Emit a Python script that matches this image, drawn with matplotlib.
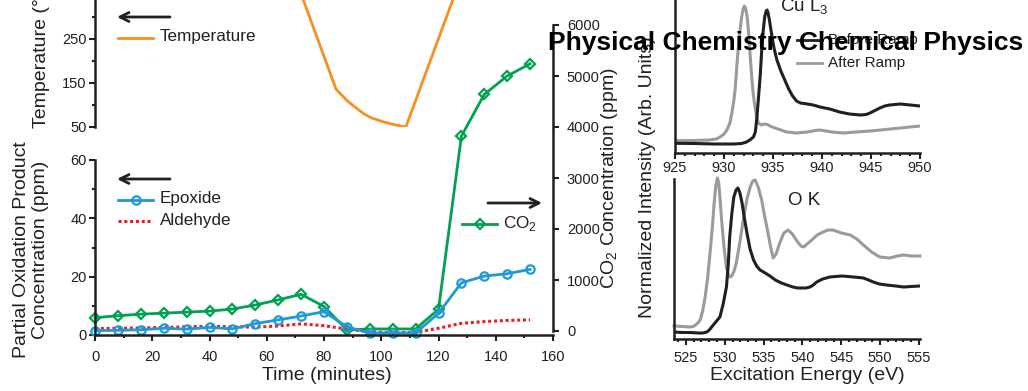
import matplotlib
matplotlib.use("Agg")
import matplotlib.pyplot as plt
from matplotlib.lines import Line2D
from matplotlib.patches import FancyArrowPatch
from matplotlib.ticker import MultipleLocator

plt.rcParams["font.family"] = ["Liberation Sans", "DejaVu Sans"]
plt.rcParams["mathtext.fontset"] = "custom"
plt.rcParams["mathtext.rm"] = "Liberation Sans"

# --- reactor run: sampled every 8 minutes ---
time_min = [0, 8, 16, 24, 32, 40, 48, 56, 64, 72, 80, 88, 96, 104, 112, 120, 128, 136, 144, 152]
epoxide_ppm = [1.5, 1.6, 1.8, 2.3, 2.0, 2.6, 2.1, 3.9, 5.2, 6.5, 8.0, 2.8, 0.7, 0.7, 0.7, 7.4, 17.9, 20.2, 21.0, 22.5]
aldehyde_ppm = [2.2, 2.3, 2.4, 2.6, 2.8, 3.0, 2.8, 2.7, 3.1, 3.8, 3.2, 2.0, 1.1, 0.8, 0.9, 2.3, 4.0, 4.6, 5.0, 5.2]
co2_ppm = [260, 300, 330, 350, 370, 390, 430, 510, 610, 720, 480, 20, 40, 40, 40, 425, 3820, 4640, 5000, 5240]

# temperature programme
temp_time = [70, 84.2, 87.9, 90.5, 93.7, 96.5, 99.6, 104, 108.6, 125, 130]
temp_c = [388, 136, 111, 97, 81, 71, 64, 56, 50, 339, 427]

# --- NEXAFS, Cu L3 edge ---
cu_e_before = [925, 927, 929, 930, 931, 931.8, 932.3, 932.7, 933.0, 933.2, 933.35, 933.5, 933.7, 933.85,
               934.0, 934.15, 934.3, 934.4, 934.5, 934.65, 934.87, 935.1, 935.4, 935.8, 936.2, 936.6,
               937.0, 937.4, 937.8, 938.5, 939.1, 939.8, 940.8, 941.8, 942.8, 943.9, 944.5, 944.9,
               945.4, 945.9, 946.4, 946.9, 948, 949, 950]
cu_before = [9.7, 9.5, 9, 9, 9, 9.5, 11, 13.5, 16, 21, 35, 53, 78, 103,
             122, 136, 142, 143, 140, 132, 118, 105, 93, 82, 73, 64,
             57, 52, 50, 49, 48, 46, 44, 41, 39, 38, 38.5, 40,
             42.5, 45, 47, 48, 49, 48, 47]
cu_e_after = [925, 927, 928.5, 929.2, 929.6, 930.0, 930.3, 930.6, 930.8, 931.0, 931.15, 931.3, 931.45,
              931.6, 931.8, 931.95, 932.07, 932.2, 932.35, 932.5, 932.65, 932.8, 932.95, 933.1, 933.3,
              933.5, 933.8, 934.1, 934.4, 934.8, 935.2, 935.8, 936.4, 937.4, 938.5, 939.3, 939.8,
              940.4, 941, 942.2, 943.5, 944.9, 946, 947, 948.5, 950]
cu_after = [12.3, 12.5, 13, 14, 16, 19, 23, 30, 40, 52, 65, 86, 104,
            120, 136, 144, 147, 145, 137, 122, 100, 80, 62, 50, 38,
            30, 28, 29, 28.5, 26.5, 25, 23, 21, 20, 21, 22.5, 23,
            22, 21, 20, 21, 22, 23, 24, 25.5, 27]

# --- NEXAFS, O K edge ---
o_e_before = [523.46, 524.5, 525.57, 526.6, 527.2, 527.68, 528.0, 528.31, 528.94, 529.37, 529.79, 530.21,
              530.45, 530.63, 530.9, 531.16, 531.45, 531.69, 531.95, 532.22, 532.5, 532.85, 533.25,
              533.7, 534.1, 534.54, 535.2, 535.81, 536.5, 537.29, 538.0, 538.76, 539.4, 539.92, 540.45,
              540.98, 541.4, 541.83, 542.6, 543.51, 545.1, 546.58, 547.84, 548.5, 549.11, 549.9, 550.8,
              552, 553.02, 554, 555.1]
o_before = [7, 6.5, 6.5, 6, 6, 7, 9, 12, 18, 22, 35, 52,
            75, 102, 125, 142, 149, 151, 146, 136, 122, 106, 90,
            79, 73, 69, 66, 63, 59, 56, 54, 52, 51, 51, 51,
            52, 54, 57, 60, 62, 63, 62, 61, 59, 57, 55, 54,
            53, 52, 52.5, 53]
o_e_after = [523.46, 524.5, 525.5, 525.94, 526.4, 526.83, 527.15, 527.47, 527.8, 528.1, 528.4, 528.63,
             528.85, 529.05, 529.22, 529.37, 529.6, 529.9, 530.2, 530.53, 530.9, 531.2, 531.48, 531.9,
             532.38, 532.85, 533.27, 533.6, 533.91, 534.3, 534.75, 535.1, 535.49, 535.9, 536.23, 536.6,
             537.07, 537.6, 538.13, 538.7, 539.29, 539.8, 540.14, 540.6, 541.19, 541.9, 542.67, 543.3,
             543.94, 545.0, 546.15, 547.0, 547.84, 548.9, 549.95, 551.22, 552.2, 553.02, 554, 555.1]
o_after = [13, 12.5, 12, 12.5, 15, 19, 28, 42, 62, 86, 112, 136,
           154, 161, 156, 142, 118, 92, 72, 62, 63, 68, 76, 95,
           119, 140, 152, 158, 159, 152, 139, 124, 109, 92, 81, 85,
           96, 106, 109, 105, 98, 93, 92, 95, 99, 104, 107, 109,
           109, 106, 104, 100, 94, 87, 82, 81, 83, 84, 83, 83]

W, H = 1028, 391
INK = "#231F20"
ORANGE = "#F7901E"
BLUE = "#1E9AD7"
GREEN = "#00A24F"
RED = "#EE1C25"
GRAY = "#9B9B9B"


def fx(x):
    return x / W


def fy(y):
    return 1 - y / H


def axes_px(fig, left, top, right, bottom):
    return fig.add_axes([fx(left), fy(bottom), (right - left) / W, (bottom - top) / H])


def style(ax, sides):
    for side, sp in ax.spines.items():
        sp.set_visible(side in sides)
        sp.set_linewidth(1.8)
        sp.set_color(INK)
    ax.patch.set_visible(False)
    ax.tick_params(which="both", direction="out", width=1.5, colors=INK, labelsize=10.5, pad=2)
    ax.tick_params(which="major", length=4)
    ax.tick_params(which="minor", length=2.5)


def legend_line(fig, x0, x1, y, **kw):
    xm = (x0 + x1) / 2
    fig.add_artist(Line2D([fx(x0), fx(xm), fx(x1)], [fy(y)] * 3,
                          transform=fig.transFigure, markevery=[1], **kw))


def arrow(fig, x_tail, x_head, y):
    fig.add_artist(FancyArrowPatch((fx(x_tail), fy(y)), (fx(x_head), fy(y)),
                                   transform=fig.transFigure, arrowstyle="->",
                                   mutation_scale=16, lw=2, color=INK,
                                   shrinkA=0, shrinkB=0))


fig = plt.figure(figsize=(W / 100, H / 100), dpi=100)

ax_temp = axes_px(fig, 95, -5, 553, 127)
ax_co2 = axes_px(fig, 95, 25, 553, 331)
ax_prod = axes_px(fig, 95, 160, 553, 335)
ax_cu = axes_px(fig, 675, -5, 920, 153)
ax_ok = axes_px(fig, 674, 179, 920, 339)

# temperature panel
style(ax_temp, ["left"])
ax_temp.plot(temp_time, temp_c, color=ORANGE, lw=2)
ax_temp.set_xlim(0, 160)
ax_temp.set_ylim(50, 350)
ax_temp.set_xticks([])
ax_temp.set_yticks([50, 150, 250, 350])
ax_temp.yaxis.set_minor_locator(MultipleLocator(50))

# CO2 on its own right-hand scale
style(ax_co2, ["right"])
ax_co2.plot(time_min, co2_ppm, color=GREEN, lw=2, marker="D", ms=5.5, mfc="none", mew=1.6, clip_on=False)
ax_co2.set_xlim(0, 160)
ax_co2.set_ylim(0, 6000)
ax_co2.set_xticks([])
ax_co2.yaxis.tick_right()
ax_co2.tick_params(axis="y", pad=6)
ax_co2.set_yticks(range(0, 6001, 1000))
ax_co2.set_zorder(1)

# partial oxidation products
style(ax_prod, ["left", "bottom"])
ax_prod.plot(time_min, aldehyde_ppm, color=RED, lw=2.2, ls=(0, (1, 0.9)), dash_capstyle="butt")
ax_prod.plot(time_min, epoxide_ppm, color=BLUE, lw=2, marker="o", ms=6, mfc="none", mew=1.6, clip_on=False)
ax_prod.set_xlim(0, 160)
ax_prod.set_ylim(0, 60)
ax_prod.set_xticks(range(0, 161, 20))
ax_prod.set_yticks(range(0, 61, 20))
ax_prod.xaxis.set_minor_locator(MultipleLocator(10))
ax_prod.yaxis.set_minor_locator(MultipleLocator(10))
ax_prod.tick_params(axis="x", pad=7)
ax_prod.set_zorder(2)

# NEXAFS panels
style(ax_cu, ["left", "bottom"])
ax_cu.set_xlim(925, 950)
ax_cu.set_xticks(range(925, 951, 5))
style(ax_ok, ["left", "bottom"])
ax_ok.set_xlim(523.46, 555.13)
ax_ok.set_xticks(range(525, 556, 5))
ax_ok.tick_params(axis="x", pad=5)
for ax in (ax_cu, ax_ok):
    ax.xaxis.set_minor_locator(MultipleLocator(1))
    ax.set_yticks([])

ax_cu.plot(cu_e_after, cu_after, color=GRAY, lw=2.2)
ax_cu.plot(cu_e_before, cu_before, color=INK, lw=2.2)
ax_cu.set_ylim(0, 158)
ax_ok.plot(o_e_after, o_after, color=GRAY, lw=2.2, clip_on=False)
ax_ok.plot(o_e_before, o_before, color=INK, lw=2.2)
ax_ok.set_ylim(0, 160)

# axis titles
fig.text(fx(42), fy(128), "Temperature (°C)", rotation=90, ha="center", va="bottom", fontsize=14, color=INK)
fig.text(fx(31), fy(250), "Partial Oxidation Product\nConcentration (ppm)", rotation=90,
         ha="center", va="center", fontsize=14, color=INK, linespacing=1.15)
fig.text(fx(610), fy(178), "CO$_2$ Concentration (ppm)", rotation=90, ha="center", va="center",
         fontsize=14, color=INK)
fig.text(fx(327), fy(375), "Time (minutes)", ha="center", va="center", fontsize=14, color=INK)
fig.text(fx(648), fy(318), "Normalized Intensity (Arb. Units)", rotation=90, ha="center", va="bottom",
         fontsize=14, color=INK)
fig.text(fx(807), fy(375), "Excitation Energy (eV)", ha="center", va="center", fontsize=14, color=INK)

# hand-placed legends
arrow(fig, 170, 117, 17)
legend_line(fig, 118, 153, 38, color=ORANGE, lw=2)
fig.text(fx(160), fy(37), "Temperature", va="center", fontsize=12.3, color=INK)

arrow(fig, 170, 117, 179)
legend_line(fig, 118, 153, 200, color=BLUE, lw=2, marker="o", ms=6, mfc="none", mew=1.6)
fig.text(fx(160), fy(199), "Epoxide", va="center", fontsize=12.3, color=INK)
legend_line(fig, 118, 153, 221, color=RED, lw=2.2, ls=(0, (1, 0.9)), dash_capstyle="butt")
fig.text(fx(160), fy(220), "Aldehyde", va="center", fontsize=12.3, color=INK)

arrow(fig, 488, 542, 203)
legend_line(fig, 462, 497, 224, color=GREEN, lw=2, marker="D", ms=5.5, mfc="none", mew=1.6)
fig.text(fx(503), fy(223), "CO$_2$", va="center", fontsize=12.3, color=INK)

legend_line(fig, 797, 822, 40, color=INK, lw=2)
fig.text(fx(828), fy(40), "Before Ramp", va="center", fontsize=11, color=INK)
legend_line(fig, 797, 822, 63, color=GRAY, lw=2)
fig.text(fx(828), fy(63), "After Ramp", va="center", fontsize=11, color=INK)

fig.text(fx(780), fy(12), "Cu L$_3$", va="baseline", fontsize=13.5, color=INK)
fig.text(fx(788), fy(205), "O K", va="baseline", fontsize=13.5, color=INK)

fig.text(fx(548), fy(50), "Physical Chemistry Chemical Physics", fontsize=19, fontweight="bold",
         va="baseline", color="black", zorder=10)

fig.savefig("out.png", dpi=100)
